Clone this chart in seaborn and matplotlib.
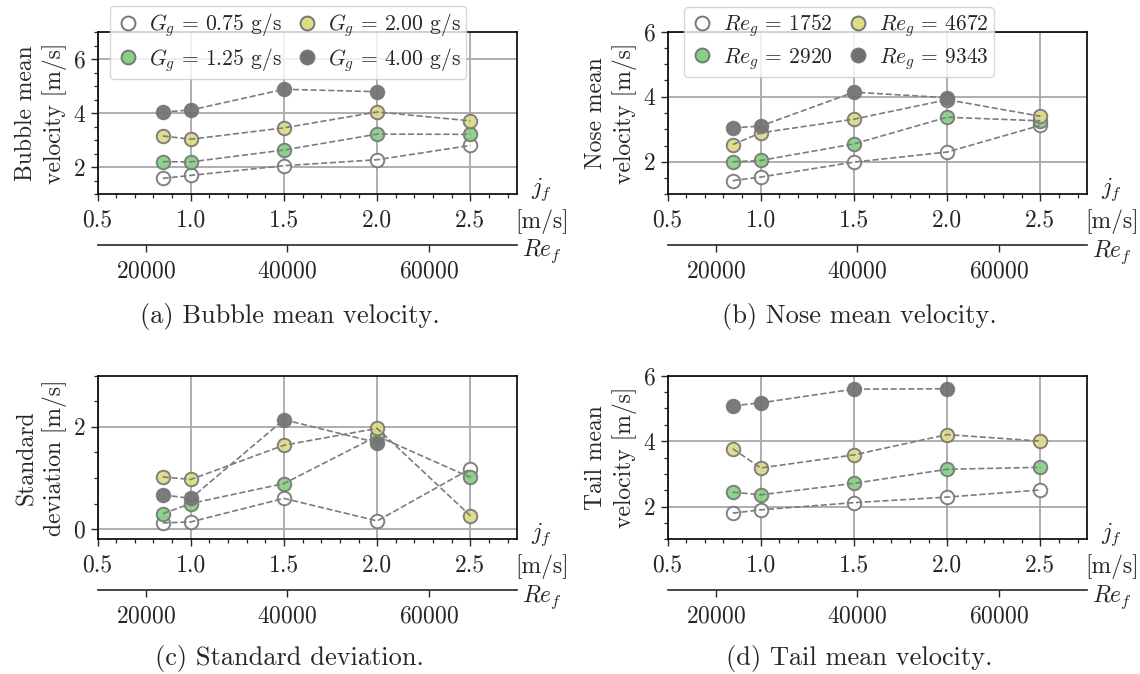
import numpy as np
import matplotlib
matplotlib.use("Agg")
import matplotlib.pyplot as plt
from matplotlib.ticker import MultipleLocator, FixedLocator, NullLocator
from matplotlib.lines import Line2D
import seaborn as sns

sns.set_style("ticks")
plt.rcParams.update({
    "font.family": "serif",
    "font.serif": ["cmr10", "DejaVu Serif"],
    "mathtext.fontset": "cm",
    "axes.formatter.use_mathtext": True,
    "axes.unicode_minus": False,
    "font.size": 17,
})

# ---------------- data ----------------
jf = [0.85, 1.0, 1.5, 2.0, 2.5]
re_per_jf = 26350  # Re_f = re_per_jf * j_f

labels_a = [r"$G_g\,=\,0.75$ g/s", r"$G_g\,=\,1.25$ g/s", r"$G_g\,=\,2.00$ g/s", r"$G_g\,=\,4.00$ g/s"]
labels_b = [r"$Re_g\,=\,1752$", r"$Re_g\,=\,2920$", r"$Re_g\,=\,4672$", r"$Re_g\,=\,9343$"]

bubble_s1 = [1.59, 1.70, 2.06, 2.28, 2.81]
bubble_s2 = [2.21, 2.20, 2.64, 3.23, 3.22]
bubble_s3 = [3.16, 3.04, 3.46, 4.05, 3.72]
bubble_s4 = [4.05, 4.12, 4.89, 4.80, np.nan]

nose_s1 = [1.42, 1.53, 1.99, 2.30, 3.12]
nose_s2 = [2.00, 2.04, 2.55, 3.37, 3.26]
nose_s3 = [2.53, 2.89, 3.31, 3.91, 3.40]
nose_s4 = [3.04, 3.10, 4.14, 3.97, np.nan]

std_s1 = [0.12, 0.14, 0.60, 0.16, 1.18]
std_s2 = [0.30, 0.50, 0.89, 1.82, 1.01]
std_s3 = [1.02, 0.97, 1.64, 1.97, 0.26]
std_s4 = [0.67, 0.60, 2.14, 1.69, np.nan]

tail_s1 = [1.80, 1.90, 2.12, 2.29, 2.51]
tail_s2 = [2.44, 2.36, 2.71, 3.14, 3.20]
tail_s3 = [3.77, 3.18, 3.58, 4.20, 4.00]
tail_s4 = [5.08, 5.17, 5.59, 5.60, np.nan]

face_colors = ["#ffffff", "#86d086", "#dedc84", "#707070"]
edge_color = "#777777"
line_color = "#7c7c7c"

captions = ["(a) Bubble mean velocity.", "(b) Nose mean velocity.",
            "(c) Standard deviation.", "(d) Tail mean velocity."]
ylabels = ["Bubble mean\nvelocity [m/s]", "Nose mean\nvelocity [m/s]",
           "Standard\ndeviation [m/s]", "Tail mean\nvelocity [m/s]"]

panels = [
    ([bubble_s1, bubble_s2, bubble_s3, bubble_s4], (1, 7), labels_a),
    ([nose_s1, nose_s2, nose_s3, nose_s4], (1, 6), labels_b),
    ([std_s1, std_s2, std_s3, std_s4], (-0.2, 3), None),
    ([tail_s1, tail_s2, tail_s3, tail_s4], (1, 6), None),
]

W, H = 1140, 674
fig = plt.figure(figsize=(W / 100, H / 100), dpi=100)

boxes = [
    (97.5, 32.3, 517, 194.3),
    (667.5, 31.7, 1087, 194.3),
    (97.5, 375.7, 517, 539.3),
    (667.5, 375.7, 1087, 539.3),
]
legend_anchor = {0: (110, 6), 1: (684, 7)}
caption_pos = [(289.6, 316), (859.6, 316), (289.6, 658), (859.6, 658)]

for i, (series, ylim, leg_labels) in enumerate(panels):
    x0, y0, x1, y1 = boxes[i]
    ax = fig.add_axes([x0 / W, 1 - y1 / H, (x1 - x0) / W, (y1 - y0) / H])
    for k, vals in enumerate(series):
        sns.scatterplot(x=jf, y=vals, ax=ax, color=face_colors[k], edgecolor=edge_color,
                        s=95, linewidth=1.4, alpha=0.92, zorder=2 + k * 0.1, legend=False)
        sns.lineplot(x=jf, y=vals, ax=ax, color=line_color, linestyle="--", linewidth=1.2,
                     estimator=None, sort=False, zorder=3, legend=False)
    ax.set_xlim(0.5, 2.75)
    ax.set_ylim(*ylim)
    ax.xaxis.set_major_locator(FixedLocator([0.5, 1.0, 1.5, 2.0, 2.5]))
    ax.xaxis.set_minor_locator(MultipleLocator(0.1))
    ax.yaxis.set_major_locator(MultipleLocator(2))
    ax.yaxis.set_minor_locator(MultipleLocator(0.5))
    ax.set_xticklabels(["0.5", "1.0", "1.5", "2.0", "2.5"])
    ax.grid(True, which="major", color="#a8a8a8", linewidth=1.3)
    ax.set_axisbelow(True)
    for sp in ax.spines.values():
        sp.set_visible(True)
        sp.set_linewidth(1.2)
        sp.set_color("black")
    ax.tick_params(which="major", direction="out", length=5, width=1.0, labelsize=17,
                   top=False, right=False)
    ax.tick_params(axis="x", which="major", pad=6)
    ax.tick_params(which="minor", direction="out", length=3, width=0.9, top=False, right=False)
    ax.set_xlabel("")
    ax.set_ylabel(ylabels[i], fontsize=17, linespacing=1.25)
    axh = y1 - y0
    ax.text(1.059, 1 - (204.5 - y0) / axh if i < 2 else 1 - (549.5 - y0) / axh,
            "$j_f$\n[m/s]", transform=ax.transAxes, ha="center", va="center",
            fontsize=17, linespacing=1.3)

    sec = ax.secondary_xaxis(-50.5 / axh, functions=(lambda x: x * re_per_jf,
                                                    lambda x: x / re_per_jf))
    sec.xaxis.set_major_locator(FixedLocator([20000, 40000, 60000]))
    sec.xaxis.set_minor_locator(NullLocator())
    sec.tick_params(which="major", direction="out", length=5, width=1.0, labelsize=17, pad=6)
    sec.spines["bottom"].set_linewidth(1.2)
    ax.text(1.059, -0.354, "$Re_f$", transform=ax.transAxes, ha="center", va="center",
            fontsize=17)

    if leg_labels is not None:
        handles = [Line2D([], [], linestyle="none", marker="o", markersize=10,
                          markerfacecolor=face_colors[k], markeredgecolor=edge_color,
                          markeredgewidth=1.4) for k in range(4)]
        ax_x, ax_y = legend_anchor[i]
        ax.legend(handles, leg_labels, ncol=2, loc="upper left",
                  bbox_to_anchor=((ax_x - x0) / (x1 - x0), 1 + (y0 - ax_y) / axh),
                  borderaxespad=0, fontsize=15.5, handletextpad=0.35, columnspacing=0.6,
                  handlelength=1.2, framealpha=0.8, edgecolor="#cccccc",
                  borderpad=0.25, labelspacing=0.3)

    cx, cy = caption_pos[i]
    fig.text(cx / W, 1 - cy / H, captions[i], ha="center", va="center", fontsize=19)

fig.savefig("out.png", dpi=100)
